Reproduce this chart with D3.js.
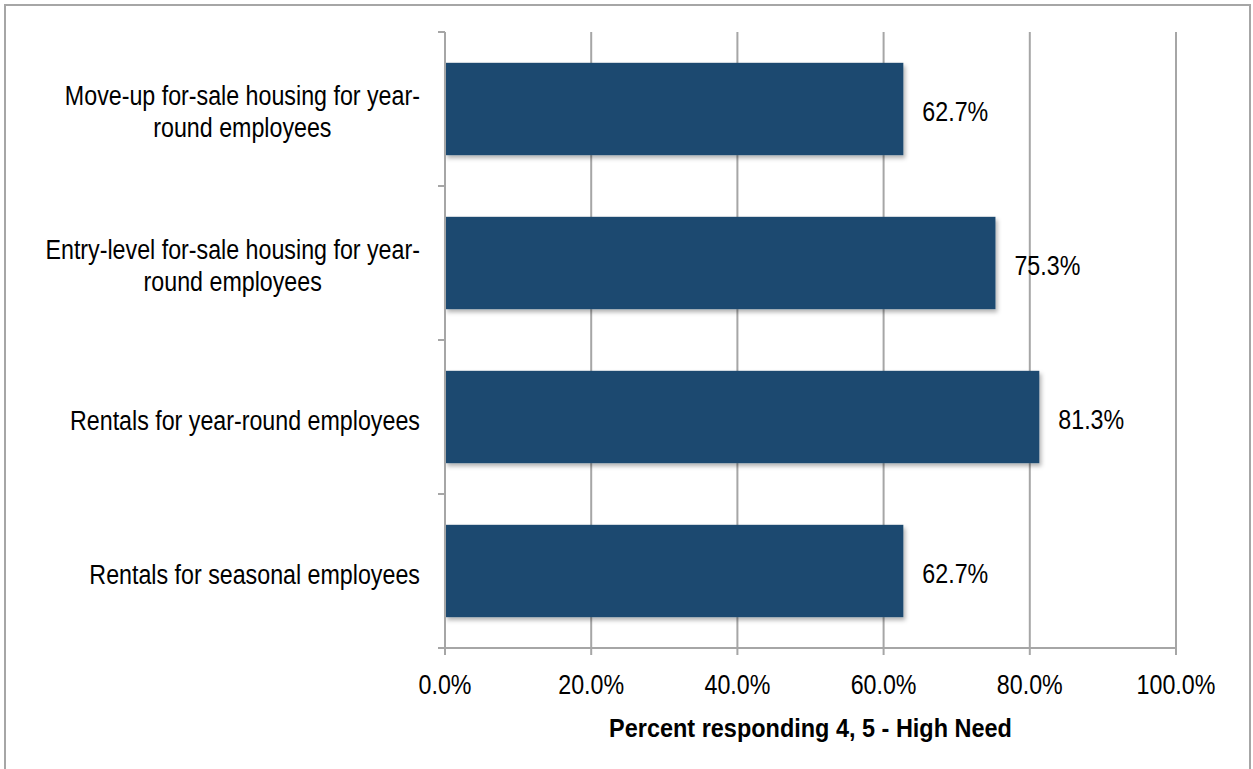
<!DOCTYPE html>
<html>
<head>
<meta charset="utf-8">
<script src="https://cdn.jsdelivr.net/npm/d3@7"></script>
<style>
  html, body { margin: 0; padding: 0; background: #fff; }
  svg { display: block; }
  text { font-family: "Liberation Sans", Arial, sans-serif; fill: #000; }
</style>
</head>
<body>
<svg id="chart" width="1253" height="769"></svg>
<script>
const categories = [
  ["Move-up for-sale housing for year-", "round employees"],
  ["Entry-level for-sale housing for year-", "round employees"],
  ["Rentals for year-round employees"],
  ["Rentals for seasonal employees"]
];
const values = [62.7, 75.3, 81.3, 62.7];
const tickValues = [0, 20, 40, 60, 80, 100];
const xTitle = "Percent responding 4, 5 - High Need";

(function () {
const svg = d3.select("#chart");
const pLeft = 445, pRight = 1176, pTop = 32, pBottom = 648;
const SX = 0.83;      // horizontal condensing of regular text
const SXB = 0.92;     // horizontal condensing of bold title

// place text at (px,py) with horizontal condensing
function place(sel, px, py, sx) {
  sel.attr("x", 0).attr("y", 0)
    .attr("transform", function (d, i) {
      const xx = typeof px === "function" ? px(d, i) : px;
      const yy = typeof py === "function" ? py(d, i) : py;
      return `translate(${xx},${yy}) scale(${sx},1)`;
    });
}

// outer frame
svg.append("rect").attr("x", 5).attr("y", 5).attr("width", 1245).attr("height", 800)
  .attr("fill", "#fff").attr("stroke", "#a6a6a6").attr("stroke-width", 2);

const defs = svg.append("defs");
const f = defs.append("filter").attr("id", "shadow").attr("x", "-5%").attr("y", "-20%").attr("width", "115%").attr("height", "150%");
f.append("feDropShadow").attr("dx", 2).attr("dy", 3).attr("stdDeviation", 2).attr("flood-color", "#000").attr("flood-opacity", 0.3);

const x = d3.scaleLinear().domain([0, 100]).range([pLeft, pRight]);
const idx = d3.range(categories.length);
const y = d3.scaleBand().domain(idx).range([pTop, pBottom]).paddingInner(0.4).paddingOuter(0.2);
const yOuter = d3.scaleBand().domain(idx).range([pTop, pBottom]);

// gridlines
svg.append("g").selectAll("line").data(tickValues.slice(1)).join("line")
  .attr("x1", d => x(d)).attr("x2", d => x(d))
  .attr("y1", pTop).attr("y2", pBottom + 7)
  .attr("stroke", "#a6a6a6").attr("stroke-width", 2);

// bars
svg.append("g").selectAll("rect").data(values).join("rect")
  .attr("x", x(0))
  .attr("y", (d, i) => y(i))
  .attr("width", d => x(d) - x(0))
  .attr("height", y.bandwidth())
  .attr("fill", "#1e4a6f")
  .attr("filter", "url(#shadow)");

// y axis line & ticks
svg.append("line").attr("x1", pLeft).attr("x2", pLeft).attr("y1", pTop).attr("y2", pBottom + 7)
  .attr("stroke", "#a6a6a6").attr("stroke-width", 2);
const yTicks = idx.map(i => yOuter(i)).concat([pBottom]);
svg.append("g").selectAll("line").data(yTicks).join("line")
  .attr("x1", pLeft - 7).attr("x2", pLeft).attr("y1", d => d).attr("y2", d => d)
  .attr("stroke", "#a6a6a6").attr("stroke-width", 2);

// x axis line
svg.append("line").attr("x1", pLeft - 7).attr("x2", pRight).attr("y1", pBottom).attr("y2", pBottom)
  .attr("stroke", "#a6a6a6").attr("stroke-width", 2);

// x tick labels
const tl = svg.append("g").selectAll("text").data(tickValues).join("text")
  .attr("text-anchor", "middle").attr("font-size", 28)
  .text(d => d.toFixed(1) + "%");
place(tl, d => x(d), 694, SX);

// x title
const tt = svg.append("text")
  .attr("text-anchor", "middle").attr("font-size", 25.5).attr("font-weight", "bold")
  .text(xTitle);
place(tt, (pLeft + pRight) / 2, 737, SXB);

// category labels: block right-aligned, lines centered within block
const labelRight = 420;
const lineH = 32;
categories.forEach((lines, i) => {
  const cy = yOuter(i) + yOuter.bandwidth() / 2;
  const g = svg.append("g");
  const texts = g.selectAll("text").data(lines).join("text")
    .attr("font-size", 28)
    .attr("text-anchor", "middle")
    .text(d => d);
  const widths = [];
  texts.each(function () { widths.push(this.getComputedTextLength() * SX); });
  const maxW = d3.max(widths);
  const cx = labelRight - maxW / 2;
  const n = lines.length;
  place(texts, cx, (d, j) => n > 1 ? cy - 4 + j * lineH : cy + 13, SX);
});

// value labels
const vl = svg.append("g").selectAll("text").data(values).join("text")
  .attr("font-size", 28)
  .text(d => d.toFixed(1) + "%");
place(vl, d => x(d) + 19, (d, i) => y(i) + y.bandwidth() / 2 + 12, SX);
})();
</script>
</body>
</html>
